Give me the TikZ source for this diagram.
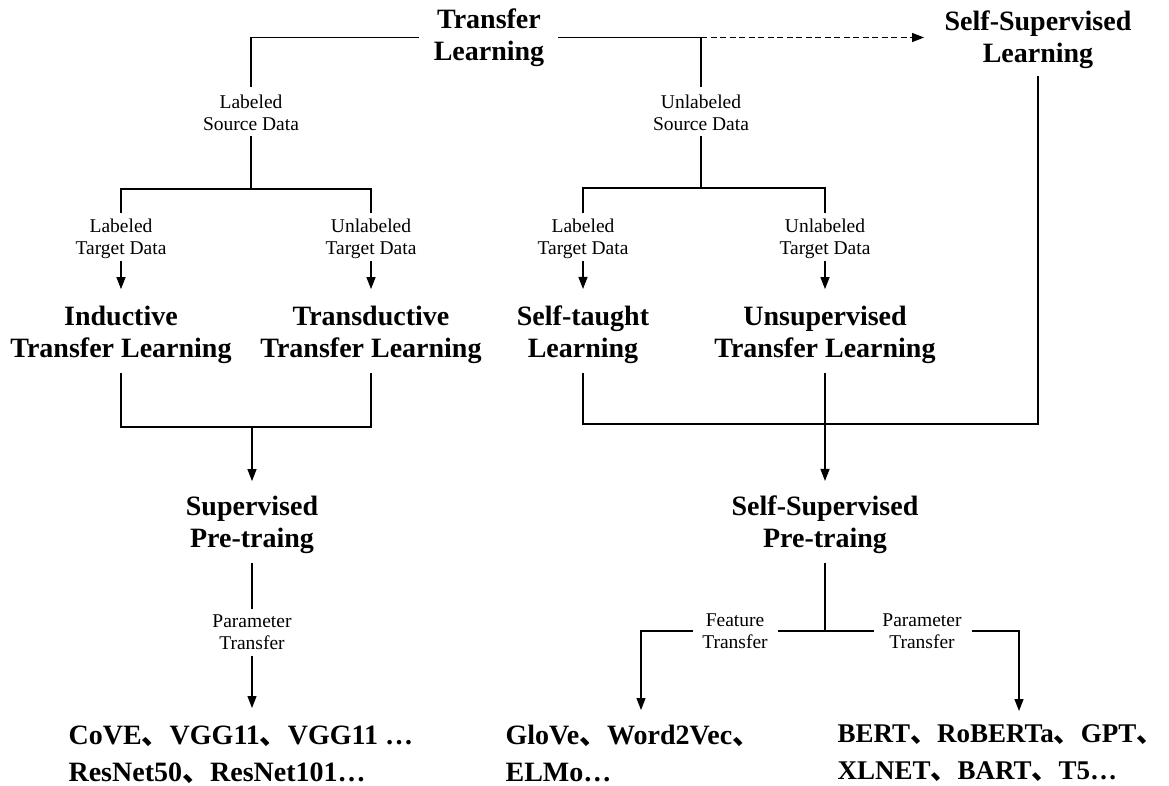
\documentclass[tikz,border=0pt]{standalone}
\usepackage{fontspec}
\setmainfont{Liberation Serif}
\newfontfamily\cjkf{Noto Sans CJK SC}
\usetikzlibrary{arrows.meta}
\newcommand{\dn}{{\cjkf 、}}
\newcommand{\bigf}{\fontsize{28}{32}\selectfont\bfseries}
\newcommand{\labf}{\fontsize{19.5}{22}\selectfont}
\newcommand{\lstf}{\fontsize{28}{37}\selectfont\bfseries}
\newcommand{\lstg}{\fontsize{27}{37}\selectfont\bfseries}
\begin{document}
\begin{tikzpicture}[x=1pt,y=-1pt,line width=1.2pt,
  >={Triangle[length=12pt,width=9pt]},
  big/.style={font=\bigf,align=center,inner sep=0pt},
  lab/.style={font=\labf,align=center,inner sep=0pt},
  lst/.style={font=\lstf,align=left,inner sep=0pt,anchor=north west},
  dsh/.style={dash pattern=on 6pt off 3.5pt}]
\fill[white] (0,0) rectangle (1169,785);
\useasboundingbox (0,0) rectangle (1169,785);

% main nodes
\node[big] (TL)  at (489,37.5) {Transfer\\Learning};
\node[big] (SSL) at (1038,40) {Self-Supervised\\Learning};
\node[lab] (LSD) at (251,113) {Labeled\\Source Data};
\node[lab] (USD) at (701,113) {Unlabeled\\Source Data};
\node[lab] (LTD1) at (121,239) {Labeled\\Target Data};
\node[lab] (UTD1) at (371,239) {Unlabeled\\Target Data};
\node[lab] (LTD2) at (583,239) {Labeled\\Target Data};
\node[lab] (UTD2) at (825,239) {Unlabeled\\Target Data};
\node[big] (IND) at (121,334.5) {Inductive\\Transfer Learning};
\node[big] (TRA) at (371,334.5) {Transductive\\Transfer Learning};
\node[big] (ST)  at (583,334.5) {Self-taught\\Learning};
\node[big] (UTL) at (825,334.5) {Unsupervised\\Transfer Learning};
\node[big] (SP)  at (252,524.5) {Supervised\\Pre-traing};
\node[big] (SSP) at (825,524.5) {Self-Supervised\\Pre-traing};
\node[lab] (PT1) at (252,632) {Parameter\\Transfer};
\node[lab] (FT)  at (735,631) {Feature\\Transfer};
\node[lab] (PT2) at (922,631) {Parameter\\Transfer};
\node[lst] (L1) at (68,725) {CoVE\dn VGG11\dn VGG11 …\\ResNet50\dn ResNet101…};
\node[lst] (L2) at (505,724) {GloVe\dn Word2Vec\dn\\ELMo…};
\node[lst,font=\lstg] (L3) at (837,724.5) {BERT\dn RoBERTa\dn GPT\dn\\XLNET\dn BART\dn T5…};

% junctions and arrow ends
\coordinate (J1) at (251,189);
\coordinate (J2) at (701,188);
\coordinate (J3) at (252,427);
\coordinate (J4) at (825,424);
\coordinate (J5) at (825,631);
\coordinate (A1) at (252,708);
\coordinate (A2) at (641,710);
\coordinate (A3) at (1019,711);

% connectors
\draw[shorten <=14pt,shorten >=8pt] (TL.west) -| (LSD.north);
\draw[shorten <=13pt,shorten >=8pt] (TL.east) -| (USD.north);
\draw[dsh,->,shorten >=20pt] (USD.north |- TL.east) -- (SSL.west |- TL.east);

\draw[shorten <=4.5pt] (LSD.south) -- (J1);
\draw[shorten <=6pt,shorten >=6pt] (LTD1.north) |- (J1) -| (UTD1.north);
\draw[shorten <=4.5pt] (USD.south) -- (J2);
\draw[shorten <=6pt,shorten >=6pt] (LTD2.north) |- (J2) -| (UTD2.north);

\draw[->,shorten <=1.5pt,shorten >=16pt] (LTD1.south) -- (IND.north);
\draw[->,shorten <=1.5pt,shorten >=16pt] (UTD1.south) -- (TRA.north);
\draw[->,shorten <=1.5pt,shorten >=16pt] (LTD2.south) -- (ST.north);
\draw[->,shorten <=1.5pt,shorten >=16pt] (UTD2.south) -- (UTL.north);

\draw[shorten <=9pt,shorten >=9pt] (IND.south) |- (J3) -| (TRA.south);
\draw[->,shorten >=14pt] (J3) -- (SP.north);

\draw[shorten <=6pt,shorten >=9pt] (SSL.south) |- (ST.south |- J4) -- (ST.south);
\draw[shorten <=9pt] (UTL.south) -- (J4);
\draw[->,shorten >=14pt] (J4) -- (SSP.north);

\draw[shorten <=9pt,shorten >=4.5pt] (SP.south) -- (PT1.north);
\draw[->,shorten <=5.5pt] (PT1.south) -- (A1);

\draw[shorten <=9pt] (SSP.south) -- (J5);
\draw[shorten >=10pt] (J5) -- (FT.east);
\draw[->,shorten <=9pt] (FT.west) -| (A2);
\draw[shorten >=7.5pt] (J5) -- (PT2.west);
\draw[->,shorten <=9.5pt] (PT2.east) -| (A3);
\end{tikzpicture}
\end{document}
